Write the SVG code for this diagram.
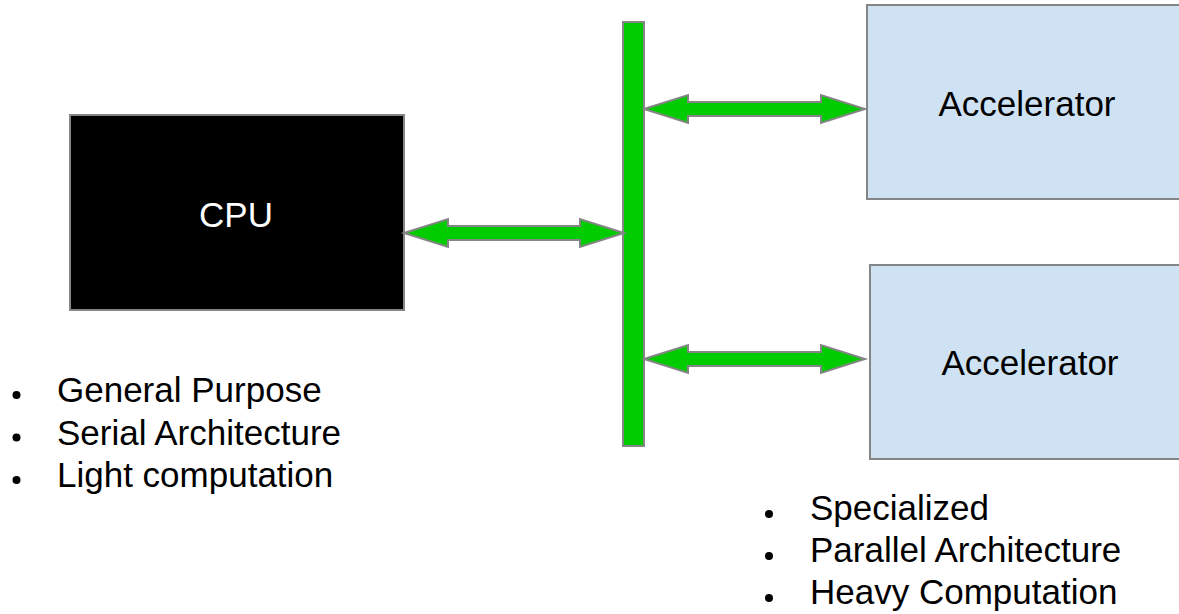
<svg xmlns="http://www.w3.org/2000/svg" width="1179" height="614" viewBox="0 0 1179 614">
<style>
.box{stroke:#858585;stroke-width:2}
.cpu{fill:#000000}
.acc{fill:#cfe2f3}
.bus{fill:#00cc00;stroke:#858585;stroke-width:2}
.arrow{fill:#00cc00;stroke:#858585;stroke-width:2;stroke-linejoin:miter}
.lbl{font-family:"Liberation Sans",Arial,sans-serif;font-size:35px}
.dot{fill:#000000}
</style>
<rect width="1179" height="614" fill="#ffffff"/>
<g id="cpu">
<rect class="box cpu" x="70" y="115" width="334" height="195"/>
<text class="lbl" x="236" y="227" text-anchor="middle" fill="#ffffff">CPU</text>
</g>
<g id="bus">
<rect class="bus" x="623" y="22" width="21" height="424"/>
</g>
<g id="accelerator1">
<rect class="box acc" x="867" y="5" width="330" height="194"/>
<text class="lbl" x="1027" y="116" text-anchor="middle" fill="#000000">Accelerator</text>
</g>
<g id="accelerator2">
<rect class="box acc" x="870" y="265" width="330" height="194"/>
<text class="lbl" x="1030" y="375" text-anchor="middle" fill="#000000">Accelerator</text>
</g>
<g id="connectors">
<polygon class="arrow" points="404,233 448,219 448,226 580,226 580,219 624,233 580,247 580,240 448,240 448,247"/>
<polygon class="arrow" points="644,109 688,95 688,102 821,102 821,95 865,109 821,123 821,116 688,116 688,123"/>
<polygon class="arrow" points="644,359 688,345 688,352 821,352 821,345 865,359 821,373 821,366 688,366 688,373"/>
</g>
<g id="cpu-notes">
<circle class="dot" cx="16.5" cy="395" r="4"/>
<circle class="dot" cx="16.5" cy="437.5" r="4"/>
<circle class="dot" cx="16.5" cy="480" r="4"/>
<text class="lbl" x="57" y="402">General Purpose</text>
<text class="lbl" x="57" y="444.5">Serial Architecture</text>
<text class="lbl" x="57" y="487">Light computation</text>
</g>
<g id="accelerator-notes">
<circle class="dot" cx="769" cy="514" r="4"/>
<circle class="dot" cx="769" cy="556" r="4"/>
<circle class="dot" cx="769" cy="598" r="4"/>
<text class="lbl" x="810" y="520">Specialized</text>
<text class="lbl" x="810" y="562">Parallel Architecture</text>
<text class="lbl" x="810" y="604">Heavy Computation</text>
</g>
</svg>
